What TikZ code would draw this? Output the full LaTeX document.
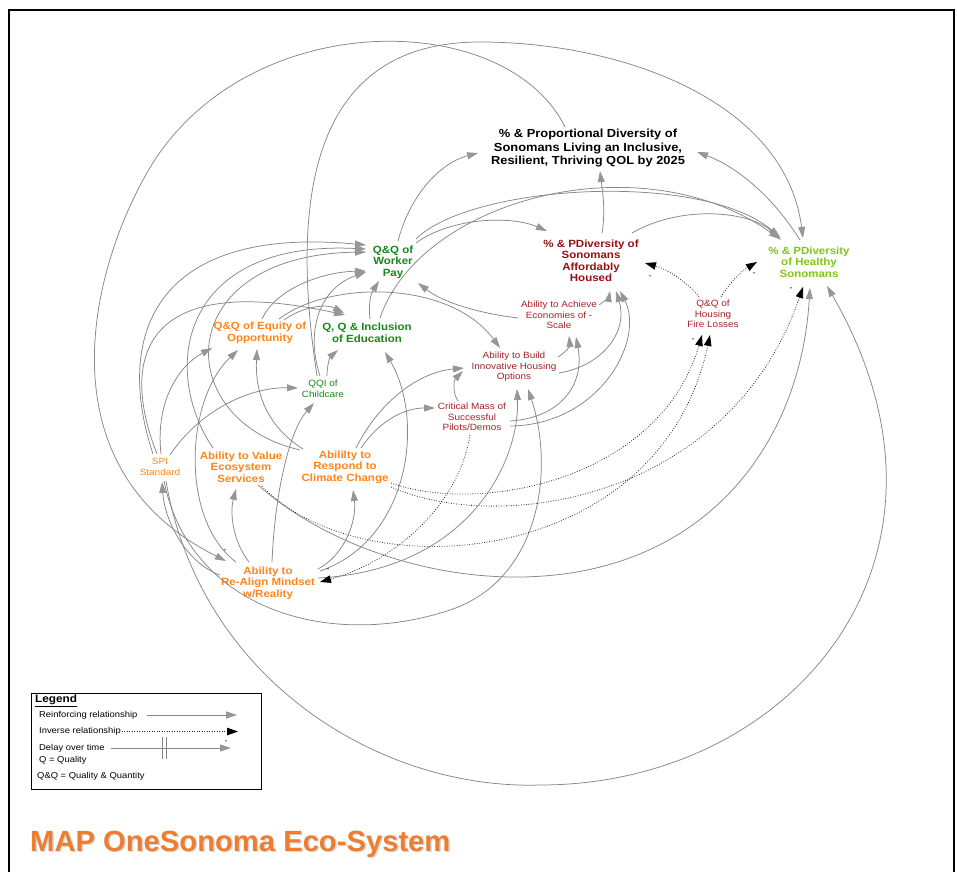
\documentclass[tikz,border=0pt]{standalone}
\usepackage{fontspec}
\setmainfont{Liberation Sans}[FakeStretch=1.1]
\newfontfamily\titlefont{Liberation Sans}
\usetikzlibrary{arrows.meta,calc}
\definecolor{linkgray}{RGB}{135,135,135}
\definecolor{headgray}{RGB}{150,150,150}
\definecolor{nodeorange}{RGB}{255,133,27}
\definecolor{nodegreen}{RGB}{25,135,25}
\definecolor{nodered}{RGB}{150,15,20}
\definecolor{smallred}{RGB}{165,35,40}
\definecolor{limegreen}{RGB}{130,198,20}
\definecolor{titleorange}{RGB}{237,125,49}
\begin{document}
\begin{tikzpicture}[x=1pt,y=-1pt,
  lbl/.style={align=center, inner sep=0pt},
  goalf/.style={lbl, font=\fontsize{11.7}{13.3}\selectfont\bfseries},
  bigf/.style={lbl, font=\fontsize{10.45}{11.5}\selectfont\bfseries},
  smallf/.style={lbl, font=\fontsize{9.05}{10.5}\selectfont},
  legf/.style={inner sep=0pt, anchor=west, font=\fontsize{8.55}{10}\selectfont},
  minus/.style={inner sep=0pt, font=\fontsize{8}{8}\selectfont},
  link/.style={draw=linkgray, line width=0.75pt, -{Triangle[length=11pt,width=7pt,color=headgray]}},
  inv/.style={draw=black!85, line width=0.8pt, dash pattern=on 0.8pt off 1.7pt, -{Triangle[length=11pt,width=7.5pt,color=black]}}]
\useasboundingbox (0,0) rectangle (957,871);
\fill[white] (0,0) rectangle (957,871);
\draw[line width=1.1pt] (9,10) rectangle (954,890);

% nodes
\node[goalf] (goal) at (588,148) {\% \& Proportional Diversity of\\Sonomans Living an Inclusive,\\Resilient, Thriving QOL by 2025};
\node[bigf, text=nodegreen] (wp) at (393,262) {Q\&Q of\\Worker\\Pay};
\node[bigf, text=nodegreen] (edu) at (367,333) {Q, Q \& Inclusion\\of Education};
\node[bigf, text=nodeorange] (equ) at (260,333) {Q\&Q of Equity of\\Opportunity};
\node[smallf, text=nodegreen] (qqi) at (323,389) {QQI of\\Childcare};
\node[bigf, text=nodered] (hou) at (591,261) {\% \& PDiversity of\\Sonomans\\Affordably\\Housed};
\node[smallf, text=smallred] (eco) at (559,315) {Ability to Achieve\\Economies of -\\Scale};
\node[smallf, text=smallred] (inn) at (514,367) {Ability to Build\\Innovative Housing\\Options};
\node[smallf, text=smallred] (cri) at (472,417) {Critical Mass of\\Successful\\Pilots/Demos};
\node[bigf, text=limegreen] (hea) at (809,262) {\% \& PDiversity\\of Healthy\\Sonomans};
\node[smallf, text=smallred] (fire) at (713,314) {Q\&Q of\\Housing\\Fire Losses};
\node[smallf, text=nodeorange] (spi) at (160,467) {SPI\\Standard};
\node[bigf, text=nodeorange] (val) at (241,467) {Ability to Value\\Ecosystem\\Services};
\node[bigf, text=nodeorange] (cli) at (345,467) {Abililty to\\Respond to\\Climate Change};
\node[bigf, text=nodeorange] (rea) at (268,583) {Ability to\\Re-Align Mindset\\w/Reality};

% into goal
\draw[link] ($(wp)+(5,-21)$) .. controls (410,195) and (440,163) .. ($(goal)+(-110,5)$);
\draw[link] ($(hou)+(11,-28)$) .. controls (606,210) and (602,188) .. ($(goal)+(12,23)$);
\draw[link] ($(hea)+(-9,-22)$) .. controls (775,200) and (740,168) .. ($(goal)+(109,4)$);
\draw[link] ($(goal)+(-23,-21)$) .. controls (505,5) and (235,5) .. (143,180) .. controls (88,281) and (45,470) .. ($(rea)+(-42,-22)$);
\draw[link] ($(qqi)+(-6,-13)$) .. controls (290,200) and (310,42) .. (480,42) .. controls (620,42) and (785,100) .. ($(hea)+(-6,-24)$);

% into worker pay
\draw[link] ($(spi)+(-7,-13)$) .. controls (115,340) and (150,225) .. ($(wp)+(-27,-17)$);
\draw[link] ($(val)+(-28,-19)$) .. controls (160,370) and (180,240) .. ($(wp)+(-27,-13)$);
\draw[link] ($(cli)+(-45,-17)$) .. controls (170,420) and (170,255) .. ($(wp)+(-27,-10)$);
\draw[link] ($(equ)+(2,-14)$) .. controls (275,290) and (320,272) .. ($(wp)+(-27,9)$);
\draw[link] ($(qqi)+(-3,-13)$) .. controls (305,330) and (320,288) .. ($(wp)+(-27,10)$);
\draw[link] ($(edu)+(3,-14)$) .. controls (368,300) and (372,292) .. ($(wp)+(-14,19)$);
\draw[link] ($(eco)+(-41,3)$) .. controls (470,312) and (440,300) .. ($(wp)+(25,21)$);

% into education
\draw[link] ($(spi)+(-3,-13)$) .. controls (120,360) and (140,270) .. ($(edu)+(-22,-18)$);
\draw[link] ($(equ)+(24,-13)$) .. controls (300,308) and (325,303) .. ($(edu)+(-23,-20)$);
\draw[link] ($(qqi)+(4,-13)$) .. controls (327,365) and (330,357) .. ($(edu)+(-29,17)$);
\draw[link] ($(rea)+(52,-12)$) .. controls (410,540) and (425,420) .. ($(edu)+(18,19)$);

% into childcare
\draw[link] ($(spi)+(10,-12)$) .. controls (200,410) and (250,387) .. ($(qqi)+(-25,-1)$);
\draw[link] ($(rea)+(4,-21)$) .. controls (275,490) and (290,430) .. ($(qqi)+(-9,14)$);

% into equity
\draw[link] ($(spi)+(1,-13)$) .. controls (155,400) and (180,365) .. ($(equ)+(-48,15)$);
\draw[link] ($(rea)+(-32,-21)$) .. controls (180,520) and (185,400) .. ($(equ)+(-22,17)$);
\draw[link] ($(cli)+(-42,-18)$) .. controls (265,425) and (255,390) .. ($(equ)+(-3,16)$);

% into housed
\draw[link] ($(wp)+(23,-19)$) .. controls (450,218) and (510,215) .. ($(hou)+(-44,-30)$);
\draw[link] ($(eco)+(40,-10)$) .. controls (606,300) and (609,297) .. ($(hou)+(19,30)$);
\draw[link] ($(inn)+(45,6)$) .. controls (605,365) and (628,330) .. ($(hou)+(25,30)$);
\draw[link] ($(cri)+(38,9)$) .. controls (600,425) and (645,340) .. ($(hou)+(29,30)$);

% into healthy
\draw[link] ($(wp)+(23,-23)$) .. controls (470,185) and (700,170) .. ($(hea)+(-29,-25)$);
\draw[link] ($(edu)+(13,-15)$) .. controls (420,200) and (640,140) .. ($(hea)+(-29,-23)$);
\draw[link] ($(hou)+(41,-28)$) .. controls (680,205) and (750,210) .. ($(hea)+(-28,-22)$);
\draw[link] ($(val)+(17,18)$) .. controls (320,540) and (420,578) .. (520,577) .. controls (700,575) and (800,450) .. ($(hea)+(1,26)$);
\draw[link] ($(spi)+(6,14)$) .. controls (200,680) and (380,790) .. (540,785) .. controls (790,785) and (985,560) .. ($(hea)+(18,24)$);

% into innovative
\draw[link] ($(equ)+(19,-14)$) .. controls (330,280) and (450,280) .. ($(inn)+(-14,-19)$);
\draw[link] ($(cli)+(11,-19)$) .. controls (380,400) and (420,372) .. ($(inn)+(-50,1)$);
\draw[link] ($(cri)+(-14,-16)$) .. controls (452,392) and (454,380) .. ($(inn)+(-51,4)$);
\draw[link] ($(rea)+(50,-5)$) .. controls (470,570) and (520,460) .. ($(inn)+(3,22)$);
\draw[link] ($(spi)+(4,14)$) .. controls (190,610) and (330,650) .. (450,610) .. controls (540,580) and (555,470) .. ($(inn)+(14,22)$);

% into economies
\draw[link] ($(inn)+(44,-10)$) .. controls (566,352) and (570,346) .. ($(eco)+(10,21)$);
\draw[link] ($(cri)+(38,4)$) .. controls (560,418) and (585,385) .. ($(eco)+(17,22)$);

% others
\draw[link] ($(cli)+(16,-19)$) .. controls (380,420) and (405,408) .. ($(cri)+(-37,-9)$);
\draw[link] ($(rea)+(-19,-21)$) .. controls (232,540) and (230,512) .. ($(val)+(-5,22)$);
\draw[link] ($(rea)+(50,-14)$) .. controls (345,555) and (357,520) .. ($(cli)+(8,23)$);
\draw[link] ($(rea)+(-48,-8)$) .. controls (190,565) and (165,525) .. ($(spi)+(2,15)$);

% inverse (dotted)
\draw[inv] ($(fire)+(-14,-17)$) .. controls (690,285) and (670,270) .. ($(hou)+(54,2)$);
\draw[inv] ($(fire)+(8,-17)$) .. controls (728,285) and (740,272) .. ($(hea)+(-52,0)$);
\draw[inv] ($(cli)+(46,16)$) .. controls (480,515) and (660,480) .. ($(fire)+(-11,21)$);
\draw[inv] ($(val)+(21,19)$) .. controls (360,590) and (660,570) .. ($(fire)+(-3,21)$);
\draw[inv] ($(cli)+(46,20)$) .. controls (500,535) and (730,500) .. ($(hea)+(-6,25)$);
\draw[inv] ($(cri)+(-2,18)$) .. controls (460,500) and (400,560) .. ($(rea)+(52,-1)$);

% minus signs
\node[minus] (m1) at (650,277) {-};
\node[minus] (m2) at (754,274) {-};
\node[minus] (m3) at (693,340) {-};
\node[minus] (m4) at (791,289) {-};
\node[minus] (m5) at (328,570) {-};
\node[minus] (m6) at (225,551) {-};

% legend
\draw[line width=0.9pt] (31,693) rectangle (261,789);
\node[legf, font=\fontsize{10.7}{12}\selectfont\bfseries] (lgt) at (35,701) {\underline{Legend}};
\node[legf] (lr) at (39,715) {Reinforcing relationship};
\coordinate (lre) at (237,715);
\draw[link] ([xshift=9pt]lr.east) -- (lre);
\node[legf] (li) at (39,731.5) {Inverse relationship};
\coordinate (lie) at (238,731.5);
\draw[inv] ([xshift=1pt]li.east) -- (lie);
\node[legf] (ld) at (39,748) {Delay over time};
\coordinate (lde) at (231,748);
\draw[link] ([xshift=6pt]ld.east) -- (lde);
\draw[draw=linkgray, line width=0.7pt] (162,737) -- (162,759) (166,737) -- (166,759);
\node[minus] (m7) at (226,742) {-};
\node[legf] (lq) at (39,760.5) {Q = Quality};
\node[legf] (lqq) at (37,776.5) {Q\&Q = Quality \& Quantity};

% title
\node[anchor=base west, inner sep=0pt, font=\titlefont\bfseries\fontsize{29.2}{32}\selectfont, text=black!30, opacity=0.5] (titlesh) at (31.5,852.5) {MAP OneSonoma Eco-System};
\node[anchor=base west, inner sep=0pt, font=\titlefont\bfseries\fontsize{29.2}{32}\selectfont, text=titleorange] (title) at (30,851) {MAP OneSonoma Eco-System};
\end{tikzpicture}
\end{document}
